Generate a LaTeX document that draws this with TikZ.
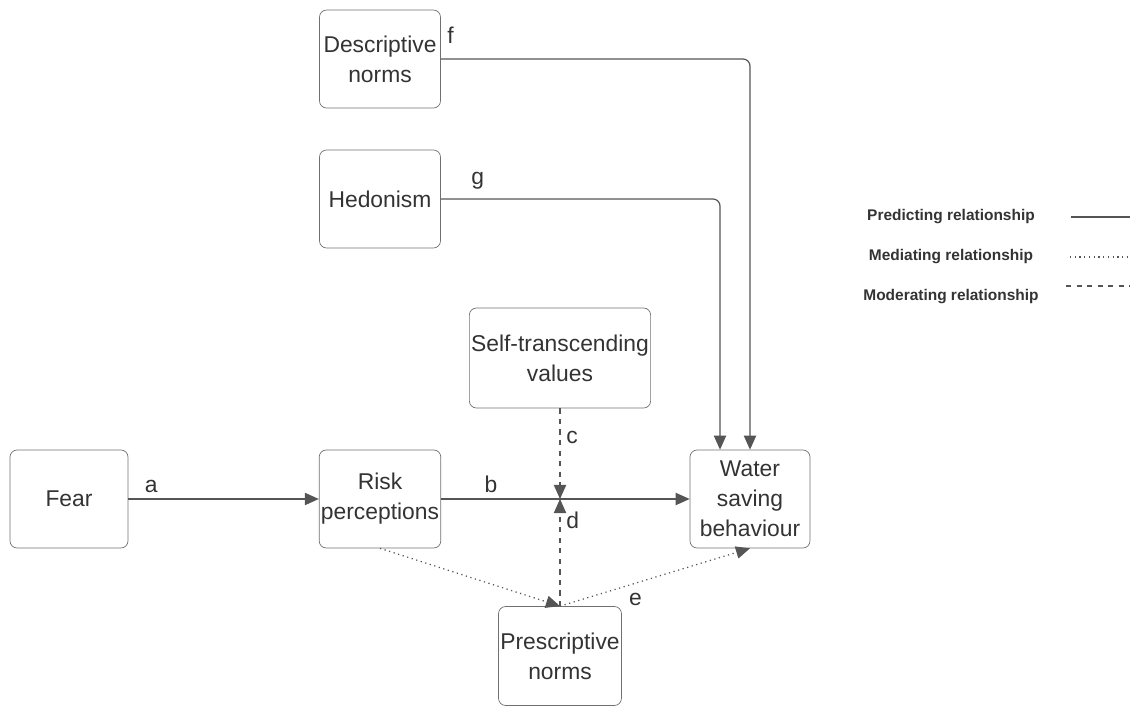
\documentclass[tikz,border=0pt]{standalone}
\usepackage{fontspec}
\setmainfont{Liberation Sans}
\usetikzlibrary{arrows.meta, positioning}
\definecolor{boxgray}{HTML}{707070}
\definecolor{linegray}{HTML}{555555}
\definecolor{inkgray}{HTML}{333333}
\newcommand\lbl{\fontsize{13}{15}\selectfont}

\begin{document}
\begin{tikzpicture} [x=0.02cm, y=-0.02cm, >={Triangle[length=8pt,width=7pt]},
  var/.style={draw=boxgray, rounded corners=4pt, align=center, text=inkgray, inner sep=1pt,
    minimum width=2.42cm, minimum height=1.96cm, font=\fontsize{13}{17}\selectfont},
  rel/.style={draw=linegray, line width=0.7pt, ->, color=linegray},
  key/.style={text=inkgray, font=\fontsize{8.8}{10}\selectfont\bfseries}]
\useasboundingbox (0,0) rectangle (1130,706);
\node[var](desc) at (380,59){Descriptive\\norms};
\node[var](hed) at (380,199){Hedonism};
\node[var, minimum width=3.58cm, minimum height=2cm](self) at (560,358){Self-transcending\\values};
\node[var, minimum width=2.36cm](fear) at (69,499){Fear};
\node[var](risk) at (380,499){Risk\\perceptions};
\node[var, minimum width=2.4cm](water) at (750,499){Water\\saving\\behaviour};
\node[var, minimum width=2.38cm, minimum height=1.98cm](presc) at (560,656){Prescriptive\\norms};
\coordinate (jn) at (560,499);
\draw [rel](fear) -- (risk) node[above, pos=.12, text=inkgray]{\lbl a};
\draw [rel](risk) -- (water) node[above, pos=.2, text=inkgray]{\lbl b};
\draw [rel, rounded corners=4pt](desc.east) -| (water.north) node[above right, pos=0, xshift=0pt, yshift=5pt, text=inkgray]{\lbl f};
\draw [rel, rounded corners=4pt](hed.east) -| ([xshift=-0.6cm]water.north) node[above right, pos=0, xshift=0.48cm, yshift=2pt, text=inkgray]{\lbl g};
\draw [rel, dashed](self) -- (jn) node[right, pos=.32, text=inkgray]{\lbl c};
\draw [rel, dashed](presc.north) -- (jn) node[right, pos=.8, text=inkgray]{\lbl d};
\draw [rel, dotted](risk.south) -- (presc.north);
\draw [rel, dotted](presc.north) -- (water.south) node[below right, pos=.33, text=inkgray]{\lbl e};
% legend
\node[key](kp) at (951,217){Predicting relationship};
\node[key](kme) at (951,257){Mediating relationship};
\node[key](kmo) at (951,297){Moderating relationship};
\coordinate (kp1) at (1071,217); \coordinate (kp2) at (1130,217);
\coordinate (kme1) at (1070,257); \coordinate (kme2) at (1130,257);
\coordinate (kmo1) at (1066,286); \coordinate (kmo2) at (1130,286);
\draw [linegray, line width=0.7pt](kp1) -- (kp2);
\draw [linegray, line width=0.7pt, dotted](kme1) -- (kme2);
\draw [linegray, line width=0.7pt, dashed](kmo1) -- (kmo2);
\end{tikzpicture}
\end{document}
